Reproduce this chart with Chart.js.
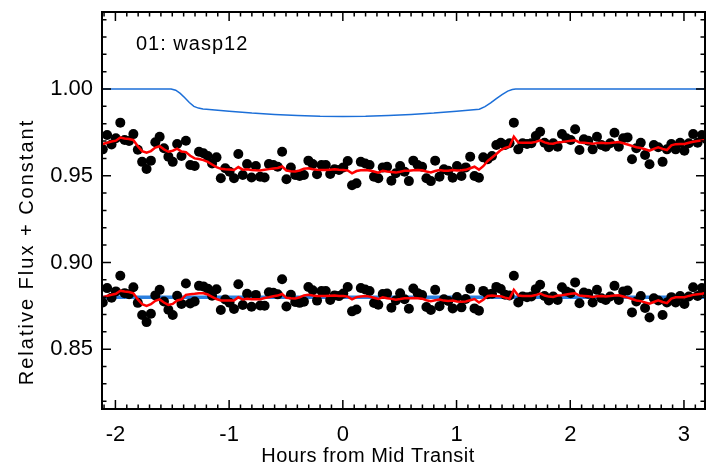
<!DOCTYPE html>
<html>
<head>
<meta charset="utf-8">
<script src="https://cdn.jsdelivr.net/npm/chart.js"></script>
<style>
  body { margin: 0; background: #fff; }
  #wrap { width: 710px; height: 468px; }
</style>
</head>
<body>
<div id="wrap"><canvas id="lightCurveChart" width="710" height="468"></canvas></div>
<script>
// Hours from mid transit for each exposure
const times = [
  -2.111,-2.073,-2.034,-1.996,-1.957,-1.919,-1.880,-1.842,-1.803,-1.765,
  -1.726,-1.688,-1.649,-1.611,-1.573,-1.534,-1.496,-1.457,-1.419,-1.380,
  -1.342,-1.303,-1.265,-1.226,-1.188,-1.150,-1.111,-1.073,-1.034,-0.996,
  -0.957,-0.919,-0.880,-0.842,-0.803,-0.765,-0.727,-0.688,-0.650,-0.611,
  -0.573,-0.534,-0.496,-0.457,-0.419,-0.380,-0.342,-0.303,-0.265,-0.227,
  -0.188,-0.150,-0.111,-0.073,-0.034,0.004,0.043,0.081,0.120,0.158,
  0.197,0.235,0.274,0.312,0.351,0.389,0.427,0.466,0.504,0.543,
  0.581,0.620,0.658,0.697,0.735,0.774,0.812,0.850,0.889,0.927,
  0.966,1.004,1.043,1.081,1.120,1.158,1.197,1.235,1.274,1.312,
  1.350,1.389,1.427,1.466,1.504,1.543,1.581,1.620,1.658,1.697,
  1.735,1.774,1.812,1.850,1.889,1.927,1.966,2.004,2.043,2.081,
  2.120,2.158,2.197,2.235,2.274,2.312,2.351,2.389,2.427,2.466,
  2.504,2.543,2.581,2.620,2.658,2.697,2.735,2.774,2.812,2.850,
  2.889,2.927,2.966,3.004,3.043,3.081,3.120,3.158,3.197
];

// Observed relative flux (upper light curve)
const flux = [
  0.9652,0.9735,0.9680,0.9716,0.9806,0.9706,0.9700,0.9740,0.9650,0.9580,
  0.9539,0.9587,0.9693,0.9725,0.9658,0.9610,0.9580,0.9683,0.9614,0.9702,
  0.9562,0.9556,0.9638,0.9630,0.9614,0.9571,0.9606,0.9485,0.9543,0.9523,
  0.9485,0.9625,0.9504,0.9567,0.9490,0.9556,0.9494,0.9490,0.9567,0.9562,
  0.9552,0.9638,0.9480,0.9547,0.9504,0.9498,0.9504,0.9587,0.9567,0.9508,
  0.9562,0.9562,0.9510,0.9537,0.9533,0.9548,0.9585,0.9445,0.9456,0.9580,
  0.9571,0.9562,0.9494,0.9485,0.9548,0.9552,0.9471,0.9514,0.9556,0.9523,
  0.9469,0.9587,0.9562,0.9552,0.9485,0.9469,0.9587,0.9494,0.9537,0.9529,
  0.9488,0.9556,0.9498,0.9548,0.9610,0.9498,0.9488,0.9606,0.9595,0.9614,
  0.9677,0.9690,0.9677,0.9687,0.9806,0.9652,0.9687,0.9683,0.9687,0.9729,
  0.9754,0.9690,0.9664,0.9687,0.9667,0.9740,0.9716,0.9706,0.9768,0.9648,
  0.9710,0.9702,0.9652,0.9725,0.9677,0.9667,0.9687,0.9748,0.9667,0.9716,
  0.9721,0.9595,0.9658,0.9690,0.9620,0.9566,0.9677,0.9664,0.9580,0.9652,
  0.9683,0.9652,0.9690,0.9644,0.9687,0.9740,0.9690,0.9735,0.9710
];

// Full model (transit x systematics), upper curve
const fluxModel = [
  0.9683,0.9690,0.9697,0.9702,0.9720,0.9715,0.9712,0.9705,0.9670,0.9642,
  0.9633,0.9642,0.9662,0.9670,0.9652,0.9638,0.9644,0.9656,0.9640,0.9636,
  0.9615,0.9600,0.9596,0.9590,0.9580,0.9565,0.9550,0.9540,0.9537,0.9536,
  0.9533,0.9550,0.9535,0.9537,0.9533,0.9531,0.9530,0.9535,0.9538,0.9542,
  0.9545,0.9553,0.9530,0.9526,0.9524,0.9530,0.9540,0.9543,0.9537,0.9534,
  0.9533,0.9533,0.9535,0.9537,0.9534,0.9533,0.9530,0.9514,0.9527,0.9531,
  0.9533,0.9530,0.9524,0.9518,0.9529,0.9525,0.9522,0.9518,0.9523,0.9529,
  0.9529,0.9532,0.9533,0.9531,0.9524,0.9519,0.9527,0.9533,0.9529,0.9529,
  0.9533,0.9530,0.9531,0.9534,0.9543,0.9552,0.9535,0.9555,0.9585,0.9605,
  0.9625,0.9648,0.9660,0.9668,0.9725,0.9692,0.9690,0.9690,0.9690,0.9695,
  0.9704,0.9692,0.9686,0.9684,0.9692,0.9694,0.9698,0.9702,0.9705,0.9692,
  0.9690,0.9688,0.9684,0.9688,0.9690,0.9687,0.9689,0.9692,0.9694,0.9687,
  0.9680,0.9672,0.9664,0.9660,0.9653,0.9645,0.9655,0.9664,0.9655,0.9648,
  0.9675,0.9682,0.9683,0.9683,0.9690,0.9696,0.9700,0.9703,0.9708
];

// Flux with the transit removed (lower curve, offset)
const resid = [
  0.8769,0.8852,0.8797,0.8833,0.8923,0.8823,0.8817,0.8857,0.8767,0.8697,
  0.8656,0.8704,0.8810,0.8842,0.8775,0.8727,0.8697,0.8808,0.8761,0.8879,
  0.8764,0.8775,0.8865,0.8862,0.8849,0.8808,0.8845,0.8726,0.8786,0.8768,
  0.8732,0.8874,0.8755,0.8820,0.8745,0.8813,0.8752,0.8750,0.8828,0.8825,
  0.8816,0.8903,0.8746,0.8814,0.8772,0.8767,0.8774,0.8858,0.8839,0.8780,
  0.8835,0.8835,0.8783,0.8810,0.8806,0.8821,0.8858,0.8718,0.8729,0.8853,
  0.8844,0.8835,0.8766,0.8756,0.8818,0.8821,0.8739,0.8781,0.8822,0.8788,
  0.8733,0.8850,0.8823,0.8812,0.8743,0.8726,0.8842,0.8747,0.8788,0.8778,
  0.8735,0.8801,0.8741,0.8789,0.8849,0.8735,0.8722,0.8836,0.8817,0.8819,
  0.8859,0.8847,0.8814,0.8810,0.8923,0.8769,0.8804,0.8800,0.8804,0.8846,
  0.8871,0.8807,0.8781,0.8804,0.8784,0.8857,0.8833,0.8823,0.8885,0.8765,
  0.8827,0.8819,0.8769,0.8842,0.8794,0.8784,0.8804,0.8865,0.8784,0.8833,
  0.8838,0.8712,0.8775,0.8807,0.8737,0.8683,0.8794,0.8781,0.8697,0.8769,
  0.8800,0.8769,0.8807,0.8761,0.8804,0.8857,0.8807,0.8852,0.8827
];

// Systematics model, lower curve
const residModel = [
  0.8800,0.8807,0.8814,0.8819,0.8837,0.8832,0.8829,0.8822,0.8787,0.8759,
  0.8750,0.8759,0.8779,0.8787,0.8769,0.8755,0.8761,0.8781,0.8787,0.8813,
  0.8817,0.8819,0.8823,0.8822,0.8815,0.8802,0.8789,0.8781,0.8780,0.8781,
  0.8780,0.8799,0.8786,0.8790,0.8788,0.8788,0.8788,0.8795,0.8799,0.8805,
  0.8809,0.8818,0.8796,0.8793,0.8792,0.8799,0.8810,0.8814,0.8809,0.8806,
  0.8806,0.8806,0.8808,0.8810,0.8807,0.8806,0.8803,0.8787,0.8800,0.8804,
  0.8806,0.8803,0.8796,0.8789,0.8799,0.8794,0.8790,0.8785,0.8789,0.8794,
  0.8793,0.8795,0.8794,0.8791,0.8782,0.8776,0.8782,0.8786,0.8780,0.8778,
  0.8780,0.8775,0.8774,0.8775,0.8782,0.8789,0.8769,0.8785,0.8807,0.8810,
  0.8807,0.8805,0.8797,0.8791,0.8842,0.8809,0.8807,0.8807,0.8807,0.8812,
  0.8821,0.8809,0.8803,0.8801,0.8809,0.8811,0.8815,0.8819,0.8822,0.8809,
  0.8807,0.8805,0.8801,0.8805,0.8807,0.8804,0.8806,0.8809,0.8811,0.8804,
  0.8797,0.8789,0.8781,0.8777,0.8770,0.8762,0.8772,0.8781,0.8772,0.8765,
  0.8792,0.8799,0.8800,0.8800,0.8807,0.8813,0.8817,0.8820,0.8825
];

// Transit shape (blue), read at key points of the curve
const transitTimes = [-2.2,-1.51,-1.47,-1.43,-1.39,-1.35,-1.31,-1.27,-1.23,-1.20,
  -1.0,-0.8,-0.6,-0.4,-0.2,0.0,0.2,0.4,0.6,0.8,1.0,
  1.20,1.25,1.30,1.35,1.40,1.45,1.49,1.52,3.3];
const transitFlux = [1.0,1.0,0.9993,0.9975,0.9950,0.9922,0.9900,0.9890,0.9885,0.9883,
  0.9872,0.9861,0.9853,0.9847,0.9843,0.9842,0.9843,0.9847,0.9853,0.9861,0.9872,
  0.9883,0.9898,0.9920,0.9945,0.9968,0.9988,0.9997,1.0,1.0];
const baseTimes = [-2.2, 3.3];
const baseFlux = [0.88, 0.88];

const xTicks = [-2, -1, 0, 1, 2, 3];
const yTicks = [0.85, 0.90, 0.95, 1.00];

const FONT = 'Liberation Sans, Arial, Helvetica, sans-serif';
const pts = (xs, ys) => ys.map((v, i) => ({ x: xs[i], y: v }));

// IDL style box with inward ticks, titles and label
const framePlugin = {
  id: 'frame',
  afterDatasetsDraw(chart) {
    const { ctx, chartArea: a, scales: { x, y } } = chart;
    ctx.save();
    ctx.strokeStyle = '#000';
    ctx.lineWidth = 1.5;
    ctx.beginPath();
    for (let k = -22; k <= 32; k++) {
      const v = k / 10;
      if (v < x.min || v > x.max) continue;
      const px = x.getPixelForValue(v);
      const len = k % 10 === 0 ? 9 : 4.5;
      ctx.moveTo(px, a.bottom); ctx.lineTo(px, a.bottom - len);
      ctx.moveTo(px, a.top); ctx.lineTo(px, a.top + len);
    }
    for (let k = 81; k <= 105; k++) {
      const v = k / 100;
      if (v < y.min || v > y.max) continue;
      const py = y.getPixelForValue(v);
      const len = k % 5 === 0 ? 9 : 4.5;
      ctx.moveTo(a.left, py); ctx.lineTo(a.left + len, py);
      ctx.moveTo(a.right, py); ctx.lineTo(a.right - len, py);
    }
    ctx.stroke();
    ctx.lineWidth = 2;
    ctx.strokeRect(a.left, a.top, a.right - a.left, a.bottom - a.top);

    ctx.fillStyle = '#000';
    ctx.font = '20px ' + FONT;
    ctx.textAlign = 'center';
    ctx.textBaseline = 'middle';
    ctx.letterSpacing = '0.5px';
    ctx.fillText('Hours from Mid Transit', 368, 456);
    ctx.save();
    ctx.translate(27, 252);
    ctx.rotate(-Math.PI / 2);
    ctx.letterSpacing = '2px';
    ctx.fillText('Relative Flux + Constant', 0, 0);
    ctx.restore();
    ctx.letterSpacing = '1px';
    ctx.textAlign = 'left';
    ctx.fillText('01: wasp12', 136, 44);
    ctx.restore();
  }
};

const ctx = document.getElementById('lightCurveChart').getContext('2d');
new Chart(ctx, {
  type: 'scatter',
  data: {
    datasets: [
      {
        label: 'Transit model',
        data: pts(transitTimes, transitFlux),
        showLine: true,
        borderColor: '#1c6fd8',
        borderWidth: 1.5,
        pointRadius: 0,
        order: 3
      },
      {
        label: 'Baseline',
        data: pts(baseTimes, baseFlux),
        showLine: true,
        borderColor: '#2b80e0',
        borderWidth: 3.5,
        pointRadius: 0,
        order: 3
      },
      {
        label: 'Flux',
        data: pts(times, flux),
        pointRadius: 5,
        pointBackgroundColor: '#000',
        pointBorderWidth: 0,
        order: 2
      },
      {
        label: 'Residual flux',
        data: pts(times, resid),
        pointRadius: 5,
        pointBackgroundColor: '#000',
        pointBorderWidth: 0,
        order: 2
      },
      {
        label: 'Model',
        data: pts(times, fluxModel),
        showLine: true,
        borderColor: '#ff0000',
        borderWidth: 2.5,
        pointRadius: 0,
        order: 1
      },
      {
        label: 'Residual model',
        data: pts(times, residModel),
        showLine: true,
        borderColor: '#ff0000',
        borderWidth: 2.5,
        pointRadius: 0,
        order: 1
      }
    ]
  },
  options: {
    responsive: false,
    animation: false,
    layout: { padding: { top: 12, right: 2, left: 0, bottom: 0 } },
    plugins: {
      legend: { display: false },
      tooltip: { enabled: false }
    },
    scales: {
      x: {
        type: 'linear',
        min: -2.118,
        max: 3.185,
        grid: { display: false, drawTicks: false },
        border: { display: false },
        afterBuildTicks: (scale) => { scale.ticks = xTicks.map(v => ({ value: v })); },
        afterFit: (scale) => { scale.height = 59; scale.paddingLeft = 0; scale.paddingRight = 0; },
        ticks: {
          color: '#000',
          padding: 13,
          maxRotation: 0,
          font: { family: FONT, size: 22 },
          callback: (v) => String(v)
        }
      },
      y: {
        type: 'linear',
        min: 0.8155,
        max: 1.0444,
        grid: { display: false, drawTicks: false },
        border: { display: false },
        afterBuildTicks: (scale) => { scale.ticks = yTicks.map(v => ({ value: v })); },
        afterFit: (scale) => { scale.width = 102; scale.paddingTop = 0; scale.paddingBottom = 0; },
        ticks: {
          color: '#000',
          padding: 9,
          font: { family: FONT, size: 22 },
          callback: (v) => v.toFixed(2)
        }
      }
    }
  },
  plugins: [framePlugin]
});
</script>
</body>
</html>
